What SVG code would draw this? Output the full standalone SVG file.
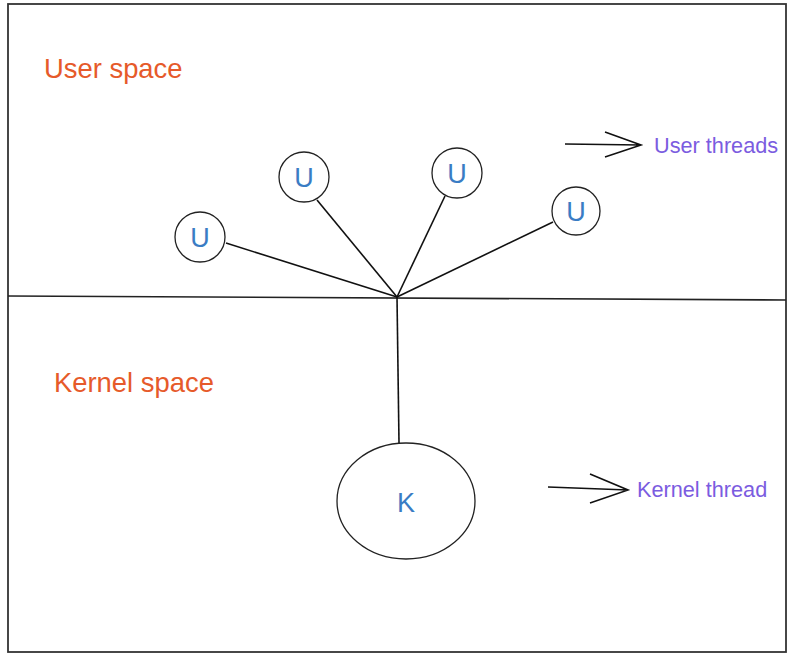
<svg xmlns="http://www.w3.org/2000/svg" width="795" height="658" viewBox="0 0 795 658">
<style>
.n{fill:#fff;stroke:#222;stroke-width:1.3}
.l{fill:#3a7cc4;font-family:"Liberation Sans",Arial,sans-serif;font-size:27px;text-anchor:middle}
.t{fill:#e65a2a;font-family:"Liberation Sans",Arial,sans-serif;font-size:27.4px}
.p{fill:#7b5ce0;font-family:"Liberation Sans",Arial,sans-serif;font-size:21.7px}
.c{stroke:#111;stroke-width:1.6;fill:none}
</style>
<rect width="795" height="658" fill="#fff"/>
<g id="frame">
<rect x="8" y="4" width="778" height="648" fill="none" stroke="#333" stroke-width="1.8"/>
<line x1="8" y1="296" x2="786" y2="300" stroke="#222" stroke-width="1.6"/>
</g>
<text class="t" x="44" y="78">User space</text>
<text class="t" x="54" y="392">Kernel space</text>
<g id="connectors">
<line class="c" x1="226" y1="243" x2="397" y2="297"/>
<line class="c" x1="317" y1="200" x2="397" y2="297"/>
<line class="c" x1="445" y1="196" x2="397" y2="297"/>
<line class="c" x1="553" y1="222" x2="397" y2="297"/>
<line class="c" x1="397" y1="297" x2="399" y2="443"/>
<path class="c" d="M565 144 L641 145 M605 132 L641 145 L605 157"/>
<path class="c" d="M548 487 L628 490 M590 474 L628 490 L590 503"/>
</g>
<g id="u1"><circle class="n" cx="200" cy="237" r="25"/><text class="l" x="200" y="247">U</text></g>
<g id="u2"><circle class="n" cx="304" cy="177" r="25"/><text class="l" x="304" y="187">U</text></g>
<g id="u3"><circle class="n" cx="457" cy="173" r="25"/><text class="l" x="457" y="183">U</text></g>
<g id="u4"><circle class="n" cx="576" cy="211" r="24"/><text class="l" x="576" y="221">U</text></g>
<g id="k"><ellipse class="n" cx="406" cy="501" rx="69" ry="58"/><text class="l" x="406" y="512">K</text></g>
<text class="p" x="654" y="153">User threads</text>
<text class="p" x="637" y="497">Kernel thread</text>
</svg>
